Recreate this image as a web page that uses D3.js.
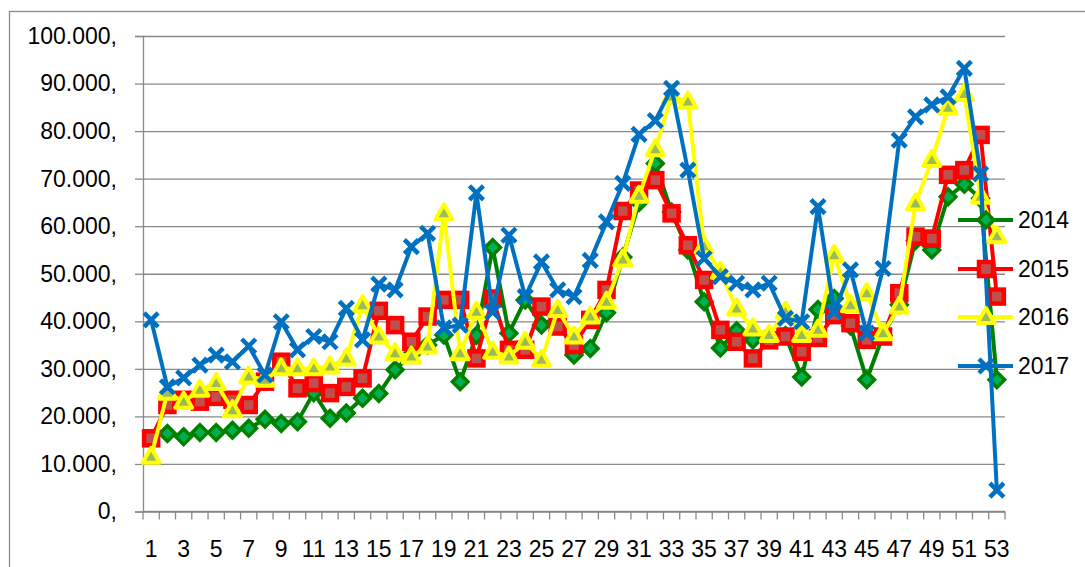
<!DOCTYPE html>
<html>
<head>
<meta charset="utf-8">
<script src="https://cdn.jsdelivr.net/npm/d3@7"></script>
<style>
  body { margin: 0; background: #fff; }
  svg { display: block; font-family: "Liberation Sans", Arial, sans-serif; }
</style>
</head>
<body>
<svg id="chart" width="1085" height="567"></svg>
<script>
// weeks 1..53
const weeks = d3.range(1, 54);

const s2014 = [null, 16400, 15700, 16600, 16600, 17100, 17500, 19400, 18500, 18900,
  25000, 19600, 20700, 23800, 24800, 29800, 33000, 35000, 37100, 27300,
  37000, 55500, 37500, 44500, 39200, 41000, 32900, 34300, 41800, 53500,
  65000, 73200, 63000, 55000, 44100, 34400, 38000, 36100, 37000, 37000,
  28300, 42500, 44800, 39000, 27700, 37000, 43500, 57000, 55000, 66200,
  68800, 65800, 27700];

const s2015 = [15400, 22400, 23500, 23100, 24100, 23500, 22400, 27300, 31500, 25900,
  27000, 24900, 26200, 28000, 42200, 39200, 35700, 41000, 44500, 44500,
  32200, 44800, 34000, 34000, 43100, 38900, 35000, 40300, 46600, 63200,
  67500, 69700, 62700, 56000, 48700, 38200, 35700, 32200, 36000, 36800,
  33600, 36500, 41300, 39600, 36100, 36800, 45900, 57800, 57400, 70800,
  71800, 79200, 45200];

const s2016 = [11500, 25000, 23100, 25600, 27000, 21300, 28400, 27700, 30100, 30100,
  30100, 30500, 32200, 43400, 36800, 33300, 32600, 34700, 62700, 33300,
  42000, 33600, 32600, 35700, 31900, 42400, 36800, 41000, 44100, 53000,
  66400, 76200, 87300, 86200, 55800, 50400, 42700, 38500, 37100, 42000,
  37100, 38200, 53900, 43400, 45900, 37500, 43100, 64800, 73900, 84900,
  87800, 66200, 57900];

const s2017 = [40300, 26200, 28100, 30800, 32900, 31500, 34800, 28700, 39900, 34000,
  36800, 35700, 42700, 36100, 47800, 46600, 55700, 58500, 38600, 39200,
  67000, 42000, 58100, 45200, 52500, 46600, 45200, 52800, 60900, 69000,
  79300, 82200, 89000, 71800, 53200, 49400, 48000, 46600, 48000, 40600,
  39900, 64100, 42000, 50800, 37500, 51100, 78100, 83000, 85500, 87200,
  93200, 71000, 4500];

const seriesNames = ["2014", "2015", "2016", "2017"];
const seriesValues = [s2014, s2015, s2016, s2017];
const yTicks = d3.range(0, 100001, 10000);

const styles = {
  "2014": { line: "#008000", fill: "#00b050", marker: "diamond" },
  "2015": { line: "#ff0000", fill: "#c0504d", marker: "square" },
  "2016": { line: "#ffff00", fill: "#9bbb59", marker: "triangle" },
  "2017": { line: "#0070c0", fill: "none", marker: "x" }
};

const FONT = 23;
const svg = d3.select("#chart");

// outer chart border (runs off the right and bottom edges)
svg.append("rect")
  .attr("x", 9.5).attr("y", 11.5)
  .attr("width", 1100).attr("height", 600)
  .attr("fill", "none").attr("stroke", "#898989").attr("stroke-width", 1.3);

const x = d3.scaleBand().domain(weeks).range([143, 1005]).padding(0);
const y = d3.scaleLinear().domain([0, 100000]).range([511.5, 36]);

const fmt = d => d3.format(",")(d).replace(/,/g, ".") + ",";

// gridlines + y axis
const yAxis = d3.axisLeft(y).tickValues(yTicks).tickFormat(fmt)
  .tickSize(8).tickPadding(18);
const gy = svg.append("g").attr("transform", "translate(143,0)").call(yAxis);
gy.select(".domain").attr("stroke", "#898989").attr("stroke-width", 1.3);
gy.selectAll(".tick line").attr("stroke", "#898989").attr("stroke-width", 1.3);
gy.selectAll(".tick").append("line")
  .attr("x1", 0).attr("x2", 1005 - 143)
  .attr("stroke", "#898989").attr("stroke-width", 1.3);
gy.selectAll(".tick text").attr("font-size", FONT).attr("fill", "#000")
  .attr("font-family", "Liberation Sans, Arial, sans-serif");

// x axis: ticks at category boundaries, labels on odd weeks
const gx = svg.append("g").attr("transform", "translate(0,511.5)");
gx.append("line").attr("x1", 143).attr("x2", 1005)
  .attr("stroke", "#898989").attr("stroke-width", 1.3);
gx.selectAll("line.tk").data(weeks.concat([54])).join("line")
  .attr("class", "tk")
  .attr("x1", d => d <= 53 ? x(d) : x(53) + x.bandwidth())
  .attr("x2", d => d <= 53 ? x(d) : x(53) + x.bandwidth())
  .attr("y1", 0).attr("y2", 8)
  .attr("stroke", "#898989").attr("stroke-width", 1.3);
gx.selectAll("text").data(weeks.filter(d => d % 2 === 1)).join("text")
  .attr("x", d => x(d) + x.bandwidth() / 2)
  .attr("y", 45)
  .attr("text-anchor", "middle")
  .attr("font-size", FONT)
  .text(d => d);

const cx = d => x(d) + x.bandwidth() / 2;

function drawMarker(g, type, st) {
  if (type === "diamond") {
    g.append("rect").attr("x", -5.5).attr("y", -5.5).attr("width", 11).attr("height", 11)
      .attr("transform", "rotate(45)")
      .attr("fill", st.fill).attr("stroke", st.line).attr("stroke-width", 3.5);
  } else if (type === "square") {
    g.append("rect").attr("x", -7).attr("y", -7).attr("width", 14).attr("height", 14)
      .attr("fill", st.fill).attr("stroke", st.line).attr("stroke-width", 4.5);
  } else if (type === "triangle") {
    g.append("path").attr("d", "M0,-9L8.5,6L-8.5,6Z")
      .attr("fill", st.fill).attr("stroke", st.line).attr("stroke-width", 4)
      .attr("stroke-linejoin", "round");
  } else {
    g.append("path").attr("d", "M-7,-7L7,7M-7,7L7,-7")
      .attr("stroke", st.line).attr("stroke-width", 4.5);
  }
}

const line = d3.line()
  .defined(d => d.v != null)
  .x(d => cx(d.w))
  .y(d => y(d.v));

seriesNames.forEach((name, i) => {
  const st = styles[name];
  const data = weeks.map((w, j) => ({ w: w, v: seriesValues[i][j] }));
  const g = svg.append("g");
  g.append("path").datum(data)
    .attr("d", line)
    .attr("fill", "none")
    .attr("stroke", st.line)
    .attr("stroke-width", 4)
    .attr("stroke-linejoin", "round");
  g.selectAll("g.m").data(data.filter(d => d.v != null)).join("g")
    .attr("class", "m")
    .attr("transform", d => `translate(${cx(d.w)},${y(d.v)})`)
    .each(function () { drawMarker(d3.select(this), st.marker, st); });
});

// legend
const legendY = [220, 269, 317, 366];
seriesNames.forEach((name, i) => {
  const st = styles[name];
  const lg = svg.append("g").attr("transform", `translate(958,${legendY[i]})`);
  lg.append("line").attr("x1", 0).attr("x2", 55)
    .attr("stroke", st.line).attr("stroke-width", 4);
  const m = lg.append("g").attr("transform", "translate(28,0)");
  drawMarker(m, st.marker, st);
  lg.append("text").attr("x", 60).attr("y", 0).attr("dy", "0.35em")
    .attr("font-size", FONT).text(name);
});
</script>
</body>
</html>
